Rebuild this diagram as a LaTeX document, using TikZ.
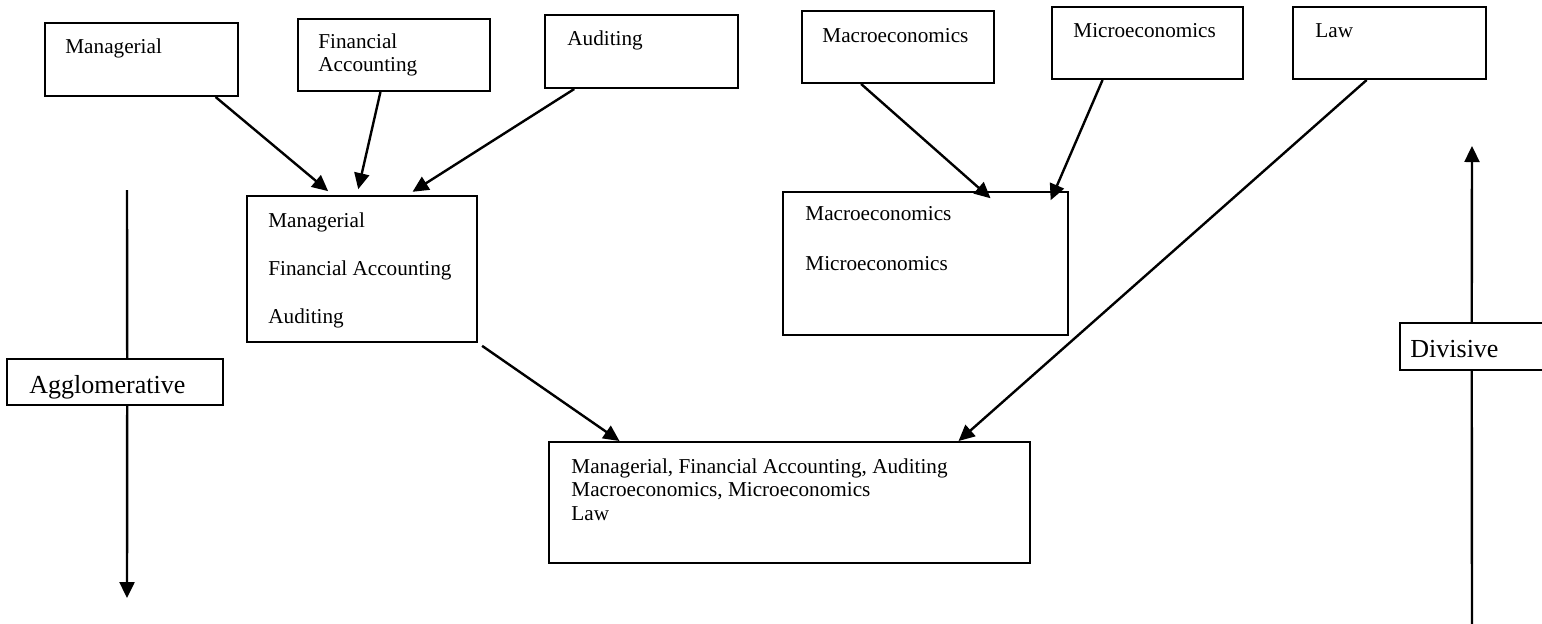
\documentclass[tikz,border=0pt]{standalone}
\usepackage{fontspec}
\setmainfont{Liberation Serif}
\usetikzlibrary{arrows.meta,calc,fit}
\begin{document}
\begin{tikzpicture}[x=0.5pt,y=-0.5pt,
  box/.style={draw,line width=1pt,inner sep=0pt},
  lbl/.style={anchor=base west,inner sep=0pt,font=\fontsize{10.6}{12}\selectfont},
  biglbl/.style={anchor=base west,inner sep=0pt,font=\fontsize{13}{15}\selectfont},
  conn/.style={line width=1.2pt,-{Triangle[length=8pt,width=7.5pt]}},
  plainline/.style={line width=1.2pt}]
\path[use as bounding box] (0,0) rectangle (1542,623);
\clip (0,0) rectangle (1542,623);
\fill[white] (0,0) rectangle (1542,623);

% top boxes
\node[box,fit={(45,23)(238,96)}] (man) {};
\node[lbl] (manT) at (65,53) {Managerial};
\node[box,fit={(298,19)(490,91)}] (fin) {};
\node[lbl] (finT1) at (318,48) {Financial};
\node[lbl] (finT2) at (318,71.5) {Accounting};
\node[box,fit={(545,15)(738,88)}] (aud) {};
\node[lbl] (audT) at (567,45) {Auditing};
\node[box,fit={(802,11)(994,83)}] (mac) {};
\node[lbl] (macT) at (822,42) {Macroeconomics};
\node[box,fit={(1052,7)(1243,79)}] (mic) {};
\node[lbl] (micT) at (1073,37) {Microeconomics};
\node[box,fit={(1293,7)(1486,79)}] (law) {};
\node[lbl] (lawT) at (1315,37) {Law};

% middle boxes
\node[box,fit={(247,196)(477,342)}] (acc) {};
\node[lbl] (accT1) at (268,227) {Managerial};
\node[lbl] (accT2) at (268,275) {Financial Accounting};
\node[lbl] (accT3) at (268,323) {Auditing};
\node[box,fit={(783,192)(1068,335)}] (eco) {};
\node[lbl] (ecoT1) at (805,220) {Macroeconomics};
\node[lbl] (ecoT2) at (805,270) {Microeconomics};

% bottom box
\node[box,fit={(549,442)(1030,563)}] (all) {};
\node[lbl] (allT1) at (571,473) {Managerial, Financial Accounting, Auditing};
\node[lbl] (allT2) at (571,496) {Macroeconomics, Microeconomics};
\node[lbl] (allT3) at (571,520) {Law};

% side boxes
\node[box,fit={(7,359)(223,405)}] (agg) {};
\node[biglbl] (aggT) at (29,393) {Agglomerative};
\node[box,fit={(1400,323)(1600,370)}] (div) {};
\node[biglbl] (divT) at (1410,357) {Divisive};

% connectors
\draw[conn,shorten >=3pt] ($(man.south west)!0.88!(man.south east)$) -- ($(acc.north west)!0.374!(acc.north east)$);
\draw[conn,shorten >=3pt] ($(fin.south west)!0.43!(fin.south east)$) -- ($(acc.north west)!0.478!(acc.north east)$);
\draw[conn,shorten >=3pt] ($(aud.south west)!0.155!(aud.south east)$) -- ($(acc.north west)!0.696!(acc.north east)$);
\draw[conn,shorten >=-5.5pt] ($(mac.south west)!0.31!(mac.south east)$) -- ($(eco.north west)!0.698!(eco.north east)$);
\draw[conn,shorten >=-5pt] ($(mic.south west)!0.267!(mic.south east)$) -- ($(eco.north west)!0.95!(eco.north east)$);
\draw[conn] ($(law.south west)!0.383!(law.south east)$) -- ($(all.north west)!0.85!(all.north east)$);
\draw[conn,shorten <=2.5pt] (acc.south east) -- ($(all.north west)!0.148!(all.north east)$);

% direction arrows
\coordinate (aggTop) at (127,190);
\coordinate (aggEnd) at (127,598);
\draw[plainline] (aggTop) -- ($(agg.north west)!0.556!(agg.north east)$);
\draw[conn] ($(agg.south west)!0.556!(agg.south east)$) -- (aggEnd);
\coordinate (divBot) at (1472,626);
\coordinate (divTip) at (1472,146);
\draw[plainline] (divBot) -- ($(div.south west)!0.36!(div.south east)$);
\draw[conn] ($(div.north west)!0.36!(div.north east)$) -- (divTip);
\end{tikzpicture}
\end{document}
